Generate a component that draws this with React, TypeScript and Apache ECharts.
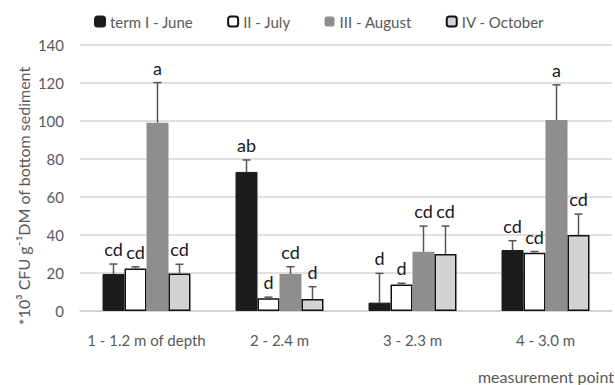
import React, { useEffect, useRef } from "react";
import * as echarts from "echarts";

const categories = ["1 - 1.2 m of depth", "2 - 2.4 m", "3 - 2.3 m", "4 - 3.0 m"];
const seriesNames = ["term I - June", "II - July", "III - August", "IV - October"];
const juneValues = [19.5, 73.2, 4.4, 32.1];
const julyValues = [22.4, 6.7, 14.0, 30.7];
const augustValues = [99.1, 19.5, 31.2, 100.5];
const octoberValues = [19.8, 6.3, 30.0, 40.0];
const juneErrTop = [24.7, 79.5, 19.8, 37.0];
const julyErrTop = [23.2, 7.3, 14.6, 31.3];
const augustErrTop = [120.2, 23.3, 44.7, 119.0];
const octoberErrTop = [24.6, 12.8, 44.7, 51.0];
const juneLetters = ["cd", "ab", "d", "cd"];
const julyLetters = ["cd", "d", "d", "cd"];
const augustLetters = ["a", "cd", "cd", "a"];
const octoberLetters = ["cd", "d", "cd", "cd"];
const yTicks = [0, 20, 40, 60, 80, 100, 120, 140];

const FONT = "Lato, 'Open Sans', sans-serif";
const BAR_W = 22;

export default function App() {
  const ref = useRef<HTMLDivElement>(null);
  useEffect(() => {
    if (!ref.current) return;
    const chart = echarts.init(ref.current, null, { renderer: "svg" });
    const values = [juneValues, julyValues, augustValues, octoberValues];
    const errs = [juneErrTop, julyErrTop, augustErrTop, octoberErrTop];
    const letters = [juneLetters, julyLetters, augustLetters, octoberLetters];
    const styles = [
      { color: "#1c1c1c", borderColor: "#1c1c1c", borderWidth: 1 },
      { color: "#ffffff", borderColor: "#111111", borderWidth: 1.5 },
      { color: "#8e8e8e", borderColor: "#8e8e8e", borderWidth: 0 },
      { color: "#d3d3d3", borderColor: "#111111", borderWidth: 1.5 },
    ];
    const barSeries = seriesNames.map((name, i) => ({
      name,
      type: "bar",
      data: values[i],
      barWidth: BAR_W,
      barGap: "0%",
      itemStyle: styles[i],
    }));
    const errSeries = seriesNames.map((name, i) => ({
      type: "custom",
      silent: true,
      z: 5,
      data: categories.map((_, c) => [c, values[i][c], errs[i][c]]),
      encode: { x: 0, y: [1, 2] },
      renderItem: (params: any, api: any) => {
        const c = api.value(0);
        const base = api.coord([c, api.value(1)]);
        const top = api.coord([c, api.value(2)]);
        const x = base[0] + (i - 1.5) * BAR_W;
        const capW = 4;
        return {
          type: "group",
          children: [
            {
              type: "line",
              shape: { x1: x, y1: base[1], x2: x, y2: top[1] },
              style: { stroke: "#555555", lineWidth: 1.5 },
            },
            {
              type: "line",
              shape: { x1: x - capW, y1: top[1], x2: x + capW, y2: top[1] },
              style: { stroke: "#555555", lineWidth: 1.5 },
            },
            {
              type: "text",
              style: {
                text: letters[i][c],
                x: x,
                y: top[1] - 6,
                align: "center",
                verticalAlign: "bottom",
                fontSize: 18,
                fontFamily: FONT,
                fill: "#1a1a1a",
              },
            },
          ],
        };
      },
    }));
    chart.setOption({
      animation: false,
      legend: {
        data: seriesNames,
        left: 89,
        top: 9,
        itemWidth: 10,
        itemHeight: 10,
        itemGap: 34,
        textStyle: { fontSize: 15, color: "#595959", fontFamily: FONT },
      },
      grid: { left: 80, right: 3, top: 45, bottom: 74 },
      xAxis: {
        type: "category",
        data: categories,
        axisLine: { lineStyle: { color: "#d0d0d0", width: 1.5 } },
        axisTick: { show: false },
        axisLabel: { interval: 0, fontSize: 15, color: "#595959", fontFamily: FONT, margin: 21 },
      },
      yAxis: {
        type: "value",
        min: yTicks[0],
        max: yTicks[yTicks.length - 1],
        interval: 20,
        axisLine: { show: false },
        axisTick: { show: false },
        axisLabel: { fontSize: 15, color: "#595959", fontFamily: FONT, margin: 16 },
        splitLine: { lineStyle: { color: "#d6d6d6", width: 1.5 } },
      },
      graphic: [
        {
          type: "text",
          x: 23,
          y: 196,
          rotation: Math.PI / 2,
          style: {
            text: "*10³ CFU g⁻¹DM of bottom sediment",
            fontSize: 16,
            fontFamily: FONT,
            fill: "#595959",
            align: "center",
            verticalAlign: "middle",
          },
        },
        {
          type: "text",
          right: 1,
          bottom: 1,
          style: {
            text: "measurement point",
            fontSize: 16,
            fontFamily: FONT,
            fill: "#595959",
          },
        },
      ],
      series: [...barSeries, ...errSeries],
    });
    return () => chart.dispose();
  }, []);
  return <div ref={ref} style={{ width: 615, height: 385, position: "absolute", left: 0, top: 0 }} />;
}
